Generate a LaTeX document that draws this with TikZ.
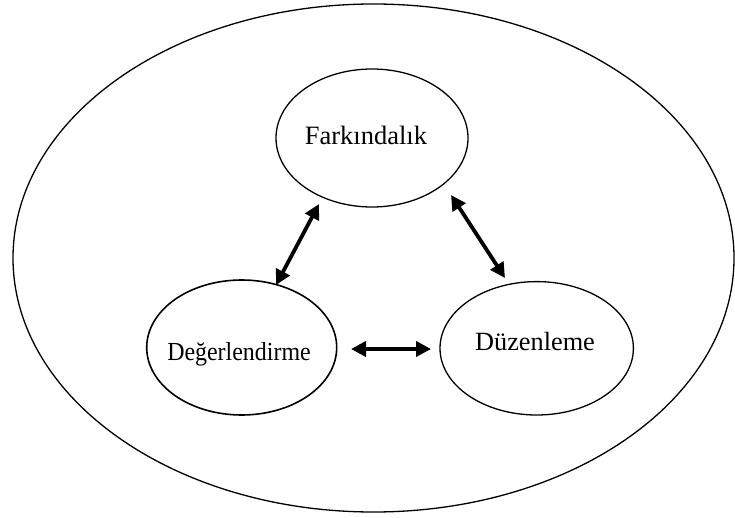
\documentclass[tikz,border=0pt]{standalone}
\usepackage{fontspec}
\setmainfont{Liberation Serif}
\usetikzlibrary{arrows.meta}
\begin{document}
\begin{tikzpicture}[x=1pt,y=-1pt,
  lbl/.style={anchor=base, inner sep=0pt},
  link/.style={line width=3.8pt, {Triangle[length=15pt,width=15pt]}-{Triangle[length=15pt,width=15pt]}}]
\useasboundingbox (0,0) rectangle (735,518);
% outer boundary
\draw[line width=1.3pt] (373.5,258) ellipse [x radius=360.5, y radius=254];
% the three stages
\draw[line width=1.3pt] (372,138) ellipse [x radius=96, y radius=69];
\draw[line width=1.6pt] (241.7,347.5) ellipse [x radius=95, y radius=67.5];
\draw[line width=1.3pt] (536.7,348.3) ellipse [x radius=96.7, y radius=66.7];
\node[lbl, font=\fontsize{26.5}{30}\selectfont] (f) at (366,145) {Farkındalık};
\node[lbl, font=\fontsize{26}{30}\selectfont, xscale=0.92] (d) at (239,360) {Değerlendirme};
\node[lbl, font=\fontsize{26.3}{30}\selectfont] (z) at (535,350) {Düzenleme};
% connectors between stages
\coordinate (fl) at (319,204);
\coordinate (dl) at (276,285);
\coordinate (fr) at (451,195);
\coordinate (zr) at (505,278);
\coordinate (db) at (351,349);
\coordinate (zb) at (431,349);
\draw[link] (fl) -- (dl);
\draw[link] (fr) -- (zr);
\draw[link] (db) -- (zb);
\end{tikzpicture}
\end{document}
